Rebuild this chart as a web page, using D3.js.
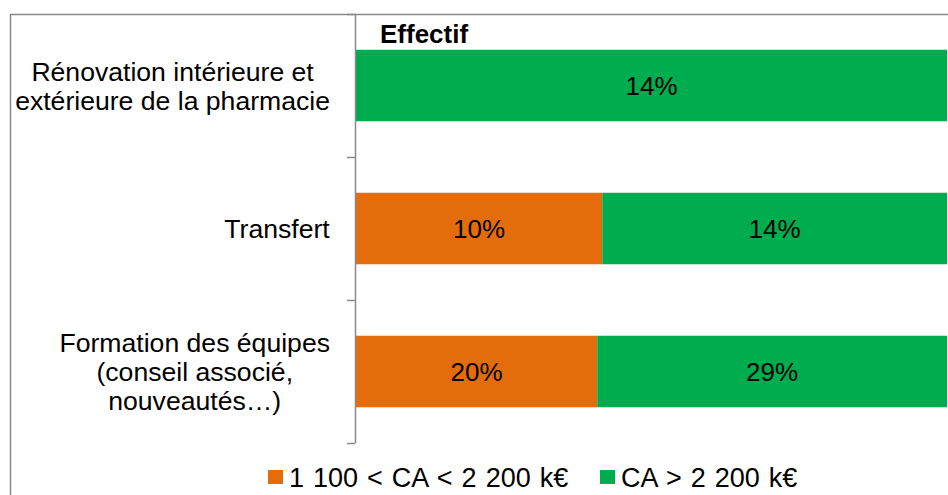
<!DOCTYPE html>
<html>
<head>
<meta charset="utf-8">
<script src="https://cdn.jsdelivr.net/npm/d3@7"></script>
<style>
  html, body { margin: 0; padding: 0; background: #fff; }
  svg { display: block; font-family: Arial, "Liberation Sans", sans-serif; }
</style>
</head>
<body>
<svg id="chart" width="948" height="495"></svg>
<script>
// Categories (top to bottom), each split over its text lines
const categories = [
  "Rénovation intérieure et extérieure de la pharmacie",
  "Transfert",
  "Formation des équipes (conseil associé, nouveautés…)"
];
const categoryLines = [
  ["Rénovation intérieure et", "extérieure de la pharmacie"],
  ["Transfert"],
  ["Formation des équipes", "(conseil associé,", "nouveautés…)"]
];

// Series (percent of respondents)
const seriesNames = ["1 100 < CA < 2 200 k€", "CA > 2 200 k€"];
const seriesMid  = [0, 10, 20];   // 1 100 < CA < 2 200 k€
const seriesHigh = [14, 14, 29];  // CA > 2 200 k€
const seriesColors = ["#E46C0A", "#00AD4E"];

const title = "Effectif";

const svg = d3.select("#chart");

// Outer chart frame (left and top edges visible)
svg.append("path")
  .attr("d", "M10.5,495 V14.5 H948")
  .attr("fill", "none")
  .attr("stroke", "#8a8a8a")
  .attr("stroke-width", 1.5);

const plot = { left: 356, right: 947, top: 14, bottom: 443 };

const rows = categories.map((c, i) => ({ cat: c, mid: seriesMid[i], high: seriesHigh[i] }));
const keys = ["mid", "high"];

// 100% stacked layout
const stacked = d3.stack().keys(keys).offset(d3.stackOffsetExpand)(rows);

const x = d3.scaleLinear().domain([0, 1]).range([plot.left, plot.right]);
const y = d3.scaleBand()
  .domain(categories)
  .range([plot.top, plot.bottom])
  .paddingInner(0.5)
  .paddingOuter(0.25);

const color = d3.scaleOrdinal().domain(keys).range(seriesColors);

// Bars
const layers = svg.append("g").selectAll("g")
  .data(stacked)
  .join("g")
  .attr("fill", d => color(d.key));

layers.selectAll("rect")
  .data(d => d.map(s => ({ s, key: d.key })))
  .join("rect")
  .attr("x", d => x(d.s[0]))
  .attr("y", d => y(d.s.data.cat))
  .attr("width", d => Math.max(0, x(d.s[1]) - x(d.s[0])))
  .attr("height", y.bandwidth());

// Value labels centred in each segment
const labels = svg.append("g")
  .attr("font-size", 26)
  .attr("fill", "#000")
  .attr("text-anchor", "middle");

stacked.forEach(layer => {
  layer.forEach(s => {
    const v = s.data[layer.key];
    if (!v) return;
    labels.append("text")
      .attr("x", (x(s[0]) + x(s[1])) / 2)
      .attr("y", y(s.data.cat) + y.bandwidth() / 2)
      .attr("dy", "0.36em")
      .text(v + "%");
  });
});

// Category axis: line with ticks between categories
const step = y.step();
const gap = step - y.bandwidth();
const boundaries = [plot.top].concat(categories.map(c => y(c) + y.bandwidth() + gap / 2));
const axis = svg.append("g").attr("stroke", "#8a8a8a").attr("stroke-width", 1.5);
axis.append("line")
  .attr("x1", plot.left - 0.5).attr("x2", plot.left - 0.5)
  .attr("y1", plot.top).attr("y2", boundaries[boundaries.length - 1]);
axis.selectAll("line.tick")
  .data(boundaries)
  .join("line")
  .attr("class", "tick")
  .attr("x1", plot.left - 9).attr("x2", plot.left - 0.5)
  .attr("y1", d => Math.round(d) + 0.5).attr("y2", d => Math.round(d) + 0.5);

// Category labels: block right-aligned, lines centred within it
const lineH = 29;
const catG = svg.append("g").attr("font-size", 26.6).attr("fill", "#000");
categoryLines.forEach((lines, i) => {
  const cy = y(categories[i]) + y.bandwidth() / 2;
  const t = catG.append("text").attr("text-anchor", "middle");
  lines.forEach((ln, j) => {
    t.append("tspan")
      .attr("x", 0)
      .attr("y", cy + (j - (lines.length - 1) / 2) * lineH)
      .attr("dy", "0.36em")
      .text(ln);
  });
  const w = t.node().getBBox().width;
  t.attr("transform", `translate(${330 - w / 2},0)`);
});

// Title
svg.append("text")
  .attr("x", 380)
  .attr("y", 43)
  .attr("font-size", 26)
  .attr("font-weight", "bold")
  .attr("fill", "#000")
  .text(title);

// Legend
const legend = svg.append("g")
  .attr("font-size", 27)
  .attr("word-spacing", 1.5)
  .attr("fill", "#000");
const legendX = [268, 600];
seriesNames.forEach((name, i) => {
  legend.append("rect")
    .attr("x", legendX[i]).attr("y", 470)
    .attr("width", 15).attr("height", 14)
    .attr("fill", seriesColors[i]);
  legend.append("text")
    .attr("x", legendX[i] + 21)
    .attr("y", 487)
    .text(name);
});
</script>
</body>
</html>
